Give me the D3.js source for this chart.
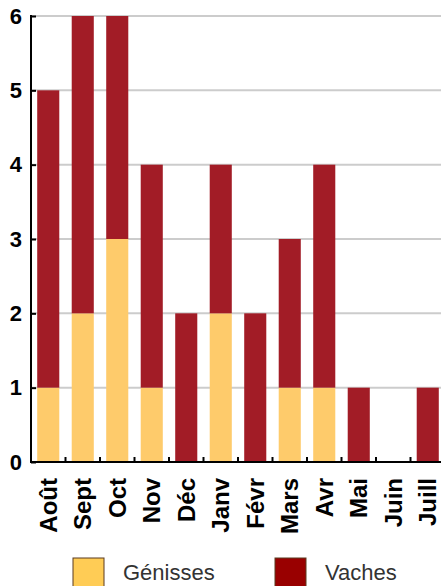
<!DOCTYPE html>
<html>
<head>
<meta charset="utf-8">
<script src="https://cdn.jsdelivr.net/npm/d3@7"></script>
<style>
body { margin: 0; background: #fff; }
svg { display: block; }
</style>
</head>
<body>
<div id="main-vis"></div>
<script>
// data
var months = ["Août", "Sept", "Oct", "Nov", "Déc", "Janv", "Févr", "Mars", "Avr", "Mai", "Juin", "Juill"];
var genisses = [1, 2, 3, 1, 0, 2, 0, 1, 1, 0, 0, 0];
var vaches = [4, 4, 3, 3, 2, 2, 2, 2, 3, 1, 0, 1];
var seriesNames = ["Génisses", "Vaches"];
var seriesColors = ["#fecb6b", "#a21c26"];
var legendColors = ["#ffcc55", "#990000"];
var yTicks = [0, 1, 2, 3, 4, 5, 6];

var W = 441, H = 586;
var mLeft = 31, mTop = 16, mBottom = 462, mRight = 445;

var data = months.map(function (m, i) {
  return { month: m, "Génisses": genisses[i], "Vaches": vaches[i] };
});
var stacked = d3.stack().keys(seriesNames)(data);

var x = d3.scaleBand().domain(months).range([mLeft, mRight]).paddingInner(0.36).paddingOuter(0.18);
var y = d3.scaleLinear().domain([0, 6]).range([mBottom, mTop]);

var svg = d3.select("#main-vis").append("svg")
  .attr("width", W)
  .attr("height", H);

// grid
svg.append("g")
  .selectAll("line")
  .data(yTicks.filter(function (d) { return d > 0; }))
  .enter().append("line")
  .attr("x1", mLeft).attr("x2", W)
  .attr("y1", function (d) { return y(d); })
  .attr("y2", function (d) { return y(d); })
  .attr("stroke", "#cccccc")
  .attr("stroke-width", 2);

// bars
svg.append("g")
  .selectAll("g")
  .data(stacked)
  .enter().append("g")
  .attr("fill", function (d, i) { return seriesColors[i]; })
  .selectAll("rect")
  .data(function (d) { return d; })
  .enter().append("rect")
  .attr("x", function (d) { return x(d.data.month); })
  .attr("width", x.bandwidth())
  .attr("y", function (d) { return y(d[1]); })
  .attr("height", function (d) { return y(d[0]) - y(d[1]); });

// y axis
var yAxis = svg.append("g")
  .attr("transform", "translate(" + mLeft + ",0)")
  .call(d3.axisLeft(y).tickValues(yTicks).tickSize(-5).tickPadding(9).tickFormat(d3.format("d")));
yAxis.select(".domain").attr("stroke", "#000").attr("stroke-width", 2).attr("d", "M0," + (mTop - 1) + "V" + mBottom);
yAxis.selectAll(".tick line").attr("stroke", "#000").attr("stroke-width", 2);
yAxis.selectAll("text")
  .attr("font-family", "Liberation Sans, Arial, sans-serif")
  .attr("font-weight", "bold")
  .attr("font-size", 22)
  .attr("fill", "#000");

// x axis
var step = x.step();
var xAxis = svg.append("g")
  .attr("transform", "translate(0," + mBottom + ")");
xAxis.append("line")
  .attr("x1", mLeft - 1).attr("x2", W)
  .attr("stroke", "#000").attr("stroke-width", 2);
xAxis.selectAll(".xt")
  .data(months.slice(1))
  .enter().append("line")
  .attr("class", "xt")
  .attr("x1", function (d) { return x(d) - step * 0.18; })
  .attr("x2", function (d) { return x(d) - step * 0.18; })
  .attr("y1", 0).attr("y2", -5)
  .attr("stroke", "#000").attr("stroke-width", 2);
xAxis.selectAll("text")
  .data(months)
  .enter().append("text")
  .attr("transform", function (d) {
    return "translate(" + (x(d) + x.bandwidth() / 2) + ",16) rotate(-90)";
  })
  .attr("text-anchor", "end")
  .attr("dy", "0.36em")
  .attr("font-family", "Liberation Sans, Arial, sans-serif")
  .attr("font-weight", "bold")
  .attr("font-size", 24)
  .attr("fill", "#000")
  .text(function (d) { return d; });

// legend
var legendX = [73, 275];
var legend = svg.append("g");
seriesNames.forEach(function (name, i) {
  legend.append("rect")
    .attr("x", legendX[i]).attr("y", 558)
    .attr("width", 31).attr("height", 30)
    .attr("fill", legendColors[i])
    .attr("stroke", "#5a3a20").attr("stroke-width", 1);
  legend.append("text")
    .attr("x", legendX[i] + 50).attr("y", 580)
    .attr("font-family", "Liberation Sans, Arial, sans-serif")
    .attr("font-size", 22)
    .attr("fill", "#333")
    .text(name);
});
</script>
</body>
</html>
